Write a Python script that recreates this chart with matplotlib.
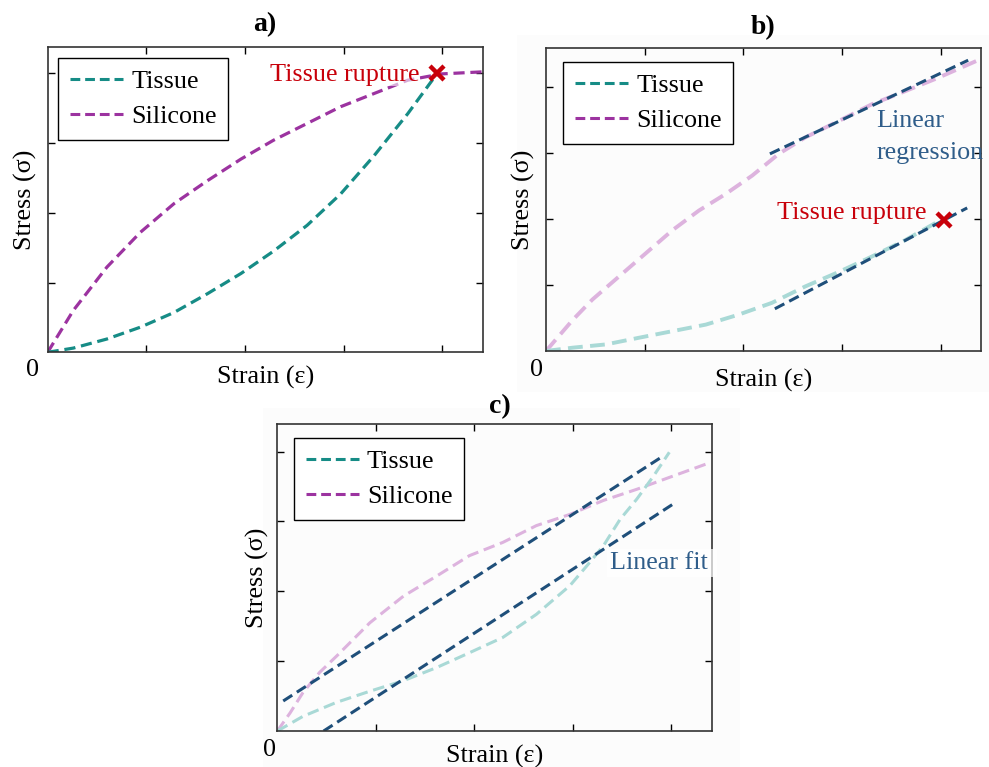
import numpy as np
import matplotlib
matplotlib.use("Agg")
import matplotlib.pyplot as plt
from matplotlib.patches import Rectangle
from matplotlib.lines import Line2D

plt.rcParams['font.family'] = ['Liberation Serif', 'DejaVu Serif']

# --- DATA ---
a_strain = [0, 0.26, 0.60, 0.94, 1.28, 1.62, 1.96, 2.29, 2.63, 2.97, 3.31, 3.65, 3.95]
a_tissue = [0, 0.06, 0.19, 0.36, 0.57, 0.84, 1.13, 1.45, 1.82, 2.27, 2.82, 3.42, 4.00]
a_sil_strain = [0, 0.26, 0.60, 0.94, 1.28, 1.62, 1.96, 2.29, 2.63, 2.97, 3.31, 3.65, 3.99, 4.41]
a_silicone = [0, 0.60, 1.22, 1.72, 2.13, 2.46, 2.77, 3.04, 3.28, 3.52, 3.71, 3.90, 3.99, 4.02]
a_rupture = (3.95, 4.0)

b_sil_strain = [0, 0.27, 0.47, 0.74, 1.01, 1.28, 1.55, 1.82, 2.09, 2.36, 2.63, 2.97, 3.30, 3.64, 3.97, 4.38]
b_silicone = [0, 0.47, 0.78, 1.13, 1.48, 1.83, 2.13, 2.38, 2.66, 2.99, 3.24, 3.49, 3.74, 3.94, 4.14, 4.41]
b_strain = [0, 0.27, 0.61, 0.94, 1.28, 1.62, 1.95, 2.29, 2.63, 2.97, 3.30, 3.64, 3.97]
b_tissue = [0, 0.05, 0.10, 0.20, 0.30, 0.40, 0.55, 0.73, 0.98, 1.20, 1.43, 1.68, 1.96]
b_fit_sil_x = [2.27, 4.28]
b_fit_sil_y = [2.99, 4.41]
b_fit_tis_x = [2.32, 4.27]
b_fit_tis_y = [0.64, 2.17]
b_rupture = (4.03, 1.98)

c_sil_strain = [0, 0.13, 0.26, 0.43, 0.60, 0.77, 0.94, 1.11, 1.28, 1.62, 1.95, 2.29, 2.63,
                2.97, 3.31, 3.65, 3.98, 4.39]
c_silicone = [0, 0.26, 0.55, 0.84, 1.07, 1.31, 1.55, 1.74, 1.93, 2.22, 2.51, 2.70, 2.94,
              3.10, 3.30, 3.46, 3.63, 3.84]
c_strain = [0, 0.26, 0.60, 0.94, 1.28, 1.62, 1.95, 2.29, 2.63, 2.97, 3.14, 3.31, 3.48,
            3.65, 3.82, 3.98]
c_tissue = [0, 0.21, 0.41, 0.57, 0.72, 0.91, 1.12, 1.34, 1.67, 2.08, 2.36, 2.65, 3.03,
            3.32, 3.65, 3.99]
c_fit_sil_x = [0.06, 3.90]
c_fit_sil_y = [0.43, 3.92]
c_fit_tis_x = [0.47, 4.02]
c_fit_tis_y = [0.0, 3.25]

ticks = [1, 2, 3, 4]

# --- COLOURS ---
teal = '#168c86'
purple = '#9c33a0'
teal_light = '#a9d9d6'
purple_light = '#ddb3de'
navy = '#1f4f7a'
red = '#c8000a'
fit_text = '#2f5d8a'

fig = plt.figure(figsize=(9.89, 7.67), dpi=100)
fig.patch.set_facecolor('white')
# very faint grey backdrops behind panels b and c
fig.patches.append(Rectangle((517 / 989, 1 - 392 / 767), 472 / 989, 357 / 767,
                             transform=fig.transFigure, facecolor='#fcfcfc',
                             edgecolor='none', zorder=-5))
fig.patches.append(Rectangle((263 / 989, 0), 477 / 989, 1 - 408 / 767,
                             transform=fig.transFigure, facecolor='#fcfcfc',
                             edgecolor='none', zorder=-5))

ax_a = fig.add_axes([0.0482, 0.5407, 0.4399, 0.3984])
ax_b = fig.add_axes([0.5521, 0.5424, 0.4398, 0.3954])
ax_c = fig.add_axes([0.2804, 0.0469, 0.4392, 0.3999])

FS = 18.8


def style(ax, ylim, zero_xy, title, title_x, title_pad, xpad, ypad):
    ax.set_facecolor('none')
    ax.set_xlim(0, 4.41)
    ax.set_ylim(0, ylim)
    ax.set_xticks(ticks)
    ax.set_yticks(ticks)
    ax.tick_params(direction='in', length=5, width=1, top=True, right=True,
                   labelbottom=False, labelleft=False)
    for sp in ax.spines.values():
        sp.set_linewidth(1.2)
        sp.set_color('#333333')
    ax.set_xlabel('Strain (ε)', fontsize=FS, labelpad=xpad)
    ax.set_ylabel('Stress (σ)', fontsize=FS, labelpad=ypad)
    ax.text(zero_xy[0], zero_xy[1], '0', transform=ax.transAxes, fontsize=FS,
            ha='center', va='center')
    ax.set_title(title, fontsize=20, fontweight='bold', x=title_x, pad=title_pad)


def legend(ax, anchor):
    h = [Line2D([], [], color=teal, lw=2.2, dashes=(3.2, 1.6)),
         Line2D([], [], color=purple, lw=2.2, dashes=(3.2, 1.6))]
    lg = ax.legend(h, ['Tissue', 'Silicone'], loc='upper left', bbox_to_anchor=anchor,
                   borderaxespad=0, fontsize=FS, frameon=True, fancybox=False,
                   handlelength=2.05, handletextpad=0.3, labelspacing=0.45,
                   borderpad=0.45, framealpha=1)
    lg.get_frame().set_edgecolor('black')
    lg.get_frame().set_linewidth(1.0)
    lg.set_zorder(10)


# --- PANEL A ---
style(ax_a, 4.38, (-0.034, -0.058), 'a)', 0.5, 11, 10, 8)
ax_a.plot(a_sil_strain, a_silicone, color=purple, lw=2.3, dashes=(3.5, 1.8))
ax_a.plot(a_strain, a_tissue, color=teal, lw=2.3, dashes=(3.5, 1.8))
ax_a.text(3.77, 3.98, 'Tissue rupture', color=red, fontsize=FS, ha='right', va='center',
          bbox=dict(facecolor='white', alpha=0.6, edgecolor='none', pad=0))
ax_a.plot(*a_rupture, marker='x', color=red, ms=10, mew=3.2, clip_on=False, zorder=6)
legend(ax_a, (0.024, 0.963))

# --- PANEL B ---
style(ax_b, 4.6, (-0.021, -0.063), 'b)', 0.5, 10, 13, 8)
ax_b.plot(b_sil_strain, b_silicone, color=purple_light, lw=2.8, dashes=(3.8, 1.9))
ax_b.plot(b_strain, b_tissue, color=teal_light, lw=2.8, dashes=(3.8, 1.9))
ax_b.plot(b_fit_sil_x, b_fit_sil_y, color=navy, lw=2.2, dashes=(3.5, 1.8), clip_on=False)
ax_b.plot(b_fit_tis_x, b_fit_tis_y, color=navy, lw=2.2, dashes=(3.5, 1.8), clip_on=False)
ax_b.text(3.86, 2.09, 'Tissue rupture', color=red, fontsize=FS, ha='right', va='center')
ax_b.plot(*b_rupture, marker='x', color=red, ms=10, mew=3.2, clip_on=False, zorder=6)
ax_b.text(3.35, 3.245, 'Linear\nregression', color=fit_text, fontsize=FS, ha='left',
          va='center', linespacing=1.55, clip_on=False)
legend(ax_b, (0.039, 0.953))

# --- PANEL C ---
style(ax_c, 4.39, (-0.017, -0.062), 'c)', 0.513, 8, 10, 6)
ax_c.plot(c_sil_strain, c_silicone, color=purple_light, lw=2.2, dashes=(3.8, 1.9))
ax_c.plot(c_strain, c_tissue, color=teal_light, lw=2.2, dashes=(3.8, 1.9))
ax_c.plot(c_fit_sil_x, c_fit_sil_y, color=navy, lw=2.2, dashes=(3.5, 1.8))
ax_c.plot(c_fit_tis_x, c_fit_tis_y, color=navy, lw=2.2, dashes=(3.5, 1.8))
ax_c.text(3.38, 2.41, 'Linear fit ', color=fit_text, fontsize=FS, ha='left', va='center',
          bbox=dict(facecolor='white', alpha=0.7, edgecolor='none', pad=2), zorder=5)
legend(ax_c, (0.038, 0.955))

fig.savefig('out.png', dpi=100)
